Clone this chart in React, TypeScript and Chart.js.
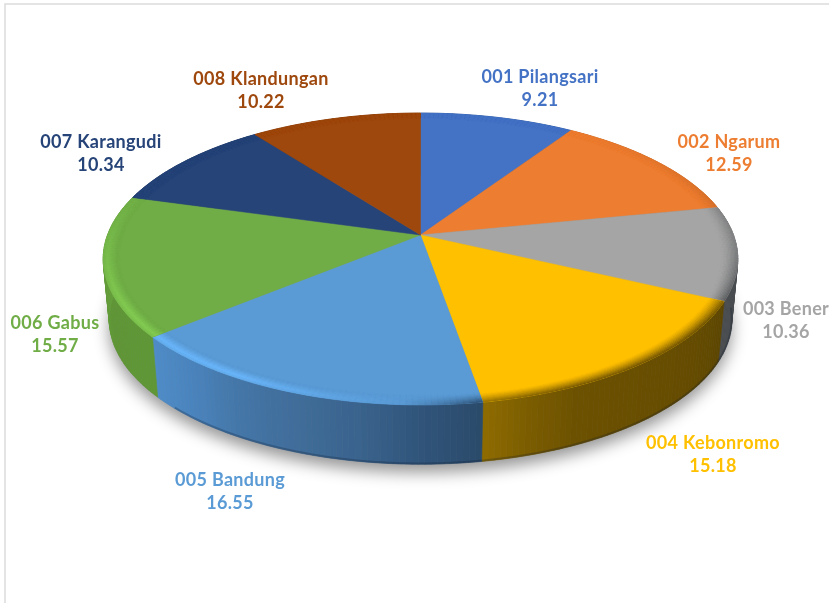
import React, { useEffect, useRef } from "react";
import { Chart, registerables } from "chart.js";

Chart.register(...registerables);

const categories = [
  "001 Pilangsari",
  "002 Ngarum",
  "003 Bener",
  "004 Kebonromo",
  "005 Bandung",
  "006 Gabus",
  "007 Karangudi",
  "008 Klandungan",
];
const values = [9.21, 12.59, 10.36, 15.18, 16.55, 15.57, 10.34, 10.22];
const sliceColors = ["#4472c4", "#ed7d31", "#a5a5a5", "#ffc000", "#5b9bd5", "#70ad47", "#264478", "#9e480e"];

const wallShades = [
  ["#2f4f85"],
  ["#a05520"],
  ["#3f4246", "#4a4d50", "#4a4d50"],
  ["#5c4500", "#624a00", "#664c00", "#684e00", "#6a4f00", "#6c5100", "#7a5c00", "#8f6c00"],
  ["#2b4a6a", "#30557b", "#3a648e", "#406d9a", "#4476a8", "#4a84bd", "#4f8cc8"],
  ["#5f9737", "#5f9636", "#659e3c", "#6aa53f"],
  ["#1a2f54"],
  ["#6e320a"],
];

// Label centres (x, first line y) on the page
const labelAnchors = [
  [540, 77],
  [729, 142],
  [786, 309],
  [713, 443],
  [230, 480],
  [55, 323],
  [101, 142],
  [261, 79],
];

// Projection of the pie disc
const CX = 420.5;
const P = 0.1644;
const TOP = { y0: 235, R: 313, A: 142 };
const BOTTOM = { y0: 296, R: 307, A: 140.6 };
const RAD = Math.PI / 180;
const STEP = 1 * RAD;

type Disk = { y0: number; R: number; A: number };
type RGB = number[];

const project = (t: number, r: number, d: Disk) => {
  const u = r * Math.sin(t);
  const v = -r * Math.cos(t);
  const k = 1 - P * v;
  return [CX + (d.R * u) / k, d.y0 + (d.A * v) / k];
};
const rgb = (h: string): RGB => [1, 3, 5].map((i) => parseInt(h.slice(i, i + 2), 16));
const mix = (a: RGB, b: RGB, t: number): RGB => a.map((x, i) => x + (b[i] - x) * t);
const css = (c: RGB) => `rgb(${c.map((x) => Math.round(Math.min(255, Math.max(0, x)))).join(",")})`;
const ramp = (x: number, a: number, b: number) => Math.min(1, Math.max(0, (x - a) / (b - a)));
const shadeAt = (list: string[], t: number): RGB => {
  if (list.length === 1) return rgb(list[0]);
  const p = t * (list.length - 1);
  const i = Math.min(list.length - 2, Math.floor(p));
  return mix(rgb(list[i]), rgb(list[i + 1]), p - i);
};
const lightAt = (deg: number) => ramp(deg, 183, 210) * (1 - ramp(deg, 240, 292));
const darkAt = (deg: number) => {
  const up = 0.45 * ramp(deg, 35, 95) + 0.55 * ramp(deg, 95, 125);
  return up * (1 - ramp(deg, 170.5, 183));
};

const slicePath = (ctx: CanvasRenderingContext2D, a: number, b: number, r: number, d: Disk) => {
  ctx.beginPath();
  ctx.moveTo(CX, d.y0);
  const n = Math.max(2, Math.ceil((b - a) / (STEP / 2)));
  for (let i = 0; i <= n; i++) {
    const [x, y] = project(a + ((b - a) * i) / n, r, d);
    ctx.lineTo(x, y);
  }
  ctx.closePath();
};

const pie3d = {
  id: "pie3d",
  beforeDraw(chart: any) {
    const { ctx, width, height } = chart;
    ctx.save();
    ctx.fillStyle = "#ffffff";
    ctx.fillRect(0, 0, width, height);
    ctx.strokeStyle = "#dcdcdc";
    ctx.lineWidth = 1.5;
    ctx.beginPath();
    ctx.moveTo(5, height);
    ctx.lineTo(5, 4);
    ctx.lineTo(width, 4);
    ctx.stroke();
    ctx.restore();
  },
  beforeDatasetsDraw(chart: any) {
    const { ctx } = chart;
    const arcs = chart.getDatasetMeta(0).data;
    const colors: string[] = chart.data.datasets[0].backgroundColor;
    const spans = arcs.map((arc: any) => [arc.startAngle + Math.PI / 2, arc.endAngle + Math.PI / 2]);
    ctx.save();

    // Soft shadow under the pie
    slicePath(ctx, 0, Math.PI * 2, 1, BOTTOM);
    ctx.save();
    ctx.shadowColor = "rgba(0,0,0,0.42)";
    ctx.shadowBlur = 16;
    ctx.shadowOffsetY = 8;
    ctx.fillStyle = "#888888";
    ctx.fill();
    ctx.restore();

    // Side wall
    spans.forEach(([a, b]: number[], i: number) => {
      const n = Math.max(2, Math.ceil((b - a) / STEP));
      for (let k = 0; k < n; k++) {
        const t0 = a + ((b - a) * k) / n;
        const t1 = a + ((b - a) * (k + 1)) / n;
        const c = css(shadeAt(wallShades[i], (k + 0.5) / n));
        const p = [project(t0, 1, TOP), project(t1, 1, TOP), project(t1, 1, BOTTOM), project(t0, 1, BOTTOM)];
        ctx.beginPath();
        p.forEach(([x, y], j) => (j ? ctx.lineTo(x, y) : ctx.moveTo(x, y)));
        ctx.closePath();
        ctx.fillStyle = c;
        ctx.strokeStyle = c;
        ctx.lineWidth = 0.6;
        ctx.fill();
        ctx.stroke();
      }
    });
    // Darker foot of the wall
    ctx.beginPath();
    for (let d = 95; d <= 225; d++) {
      const [x, y] = project(d * RAD, 1, BOTTOM);
      if (d === 95) ctx.moveTo(x, y - 0.8);
      else ctx.lineTo(x, y - 0.8);
    }
    ctx.strokeStyle = "rgba(10,25,45,0.25)";
    ctx.lineWidth = 2;
    ctx.stroke();

    // Top face with bevelled rim
    spans.forEach(([a, b]: number[], i: number) => {
      const base = rgb(colors[i]);
      const bright = base.map((x) => x * 1.18);
      ctx.save();
      slicePath(ctx, a, b, 1, TOP);
      ctx.fillStyle = colors[i];
      ctx.strokeStyle = colors[i];
      ctx.lineWidth = 0.5;
      ctx.fill();
      ctx.stroke();
      slicePath(ctx, a, b, 1.002, TOP);
      ctx.clip();
      const n = Math.max(2, Math.ceil((b - a) / STEP));
      const rings = 12;
      for (let q = 0; q < rings; q++) {
        const r0 = 1 - 0.05 * (q / rings);
        const r1 = 1 - 0.05 * ((q + 1) / rings);
        const rm = (r0 + r1) / 2;
        const lightProfile = rm > 0.985 ? 0.55 + (0.45 * (1 - rm)) / 0.015 : ramp(rm, 0.957, 0.985);
        const darkProfile = Math.pow(ramp(rm, 0.952, 1), 1.3);
        for (let k = 0; k < n; k++) {
          const t0 = a + ((b - a) * k) / n;
          const t1 = a + ((b - a) * (k + 1)) / n;
          const deg = (((t0 + t1) / 2) / RAD + 360) % 360;
          let c = mix(base, bright, lightAt(deg) * lightProfile);
          const wall = shadeAt(wallShades[i], (k + 0.5) / n);
          c = mix(c, wall, darkAt(deg) * darkProfile);
          const s = css(c);
          const p = [project(t0, r0, TOP), project(t1, r0, TOP), project(t1, r1, TOP), project(t0, r1, TOP)];
          ctx.beginPath();
          p.forEach(([x, y], j) => (j ? ctx.lineTo(x, y) : ctx.moveTo(x, y)));
          ctx.closePath();
          ctx.fillStyle = s;
          ctx.strokeStyle = s;
          ctx.lineWidth = 0.5;
          ctx.fill();
          ctx.stroke();
        }
      }
      ctx.restore();
    });
    ctx.restore();
    return false;
  },
  afterDraw(chart: any) {
    const { ctx } = chart;
    const colors: string[] = chart.data.datasets[0].backgroundColor;
    const names: string[] = chart.data.labels;
    const vals: number[] = chart.data.datasets[0].data;
    ctx.save();
    ctx.font = 'bold 18px Lato, "Open Sans", sans-serif';
    (ctx as any).letterSpacing = "0.3px";
    ctx.textAlign = "center";
    ctx.textBaseline = "middle";
    names.forEach((name, i) => {
      const [x, y] = labelAnchors[i];
      ctx.fillStyle = colors[i];
      ctx.fillText(name, x, y);
      ctx.fillText(vals[i].toFixed(2), x, y + 23.5);
    });
    ctx.restore();
  },
};

export default function App() {
  const ref = useRef<HTMLCanvasElement>(null);
  useEffect(() => {
    const chart = new Chart(ref.current as HTMLCanvasElement, {
      type: "pie",
      data: {
        labels: categories,
        datasets: [{ data: values, backgroundColor: sliceColors, borderWidth: 0 }],
      },
      options: {
        responsive: false,
        animation: false,
        events: [],
        plugins: { legend: { display: false }, tooltip: { enabled: false } },
      },
      plugins: [pie3d],
    } as any);
    return () => chart.destroy();
  }, []);
  return (
    <div style={{ position: "fixed", left: 0, top: 0, width: 829, height: 603, background: "#fff" }}>
      <canvas ref={ref} width={829} height={603} style={{ display: "block" }} />
    </div>
  );
}
